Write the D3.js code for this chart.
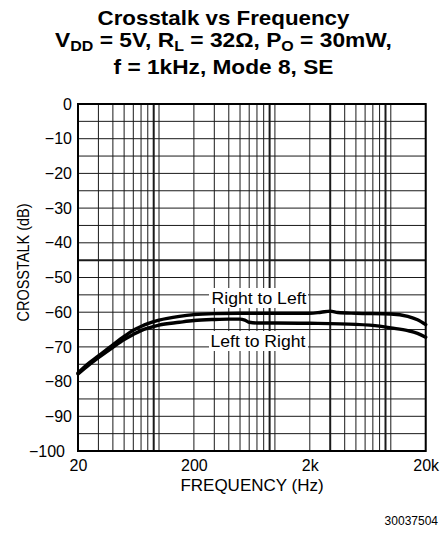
<!DOCTYPE html>
<html>
<head>
<meta charset="utf-8">
<script src="https://cdn.jsdelivr.net/npm/d3@7/dist/d3.min.js"></script>
<style>
  html, body { margin: 0; padding: 0; background: #fff; }
  svg { display: block; }
  text { font-family: "Liberation Sans", Arial, Helvetica, sans-serif; fill: #000; }
</style>
</head>
<body>
<div id="chart"></div>
<script>
// ---- Data ----
const freqRightToLeft = [20, 25, 30, 40, 50, 60, 70, 80, 100, 150, 200, 300, 500, 700, 1000, 2000, 2500, 3000, 3500, 5000, 10000, 14000, 17000, 20000];
const dbRightToLeft   = [-77.5, -74.6, -72.6, -69.4, -67.0, -65.2, -64.1, -63.3, -62.3, -61.2, -60.7, -60.4, -60.3, -60.3, -60.3, -60.3, -60.0, -59.7, -60.1, -60.3, -60.5, -61.2, -62.2, -63.6];
const freqLeftToRight = [20, 25, 30, 40, 50, 60, 70, 80, 100, 150, 200, 300, 400, 500, 550, 600, 700, 1000, 2000, 5000, 8000, 10000, 14000, 17000, 20000];
const dbLeftToRight   = [-77.8, -75.1, -73.1, -70.1, -67.9, -66.4, -65.3, -64.6, -63.7, -62.9, -62.4, -62.1, -62.0, -62.0, -62.3, -62.9, -63.1, -63.1, -63.2, -63.5, -64.0, -64.5, -65.3, -66.1, -67.2];
const seriesNames = ["Right to Left", "Left to Right"];

const xGridValues = [20, 30, 40, 50, 60, 70, 80, 90, 100, 200, 300, 400, 500, 600, 700, 800, 900, 1000, 2000, 3000, 4000, 5000, 6000, 7000, 8000, 9000, 10000, 20000];
const xGridHeavy = [90, 900, 3000, 9000];
const yGridValues = d3.range(0, -101, -5);
const yGridHeavy = [-45];
const xTickValues = [20, 200, 2000, 20000];
const xTickLabels = ["20", "200", "2k", "20k"];
const yTickValues = [0, -10, -20, -30, -40, -50, -60, -70, -80, -90, -100];

const titleLine1 = "Crosstalk vs Frequency";
const titleLine2 = [["V", false], ["DD", true], [" = 5V, R", false], ["L", true], [" = 32\u03A9, P", false], ["O", true], [" = 30mW,", false]];
const titleLine3 = "f = 1kHz, Mode 8, SE";
const xAxisTitle = "FREQUENCY (Hz)";
const yAxisTitle = "CROSSTALK (dB)";
const figureCode = "30037504";

// ---- Layout ----
const W = 445, H = 535;
const plot = { left: 78, right: 425.7, top: 104, bottom: 451 };

const svg = d3.select("#chart").append("svg").attr("width", W).attr("height", H);

const x = d3.scaleLog().domain([20, 20000]).range([plot.left, plot.right]);
const y = d3.scaleLinear().domain([-100, 0]).range([plot.bottom, plot.top]);

// Grid
const grid = svg.append("g");
grid.selectAll("line.vx").data(xGridValues).join("line")
  .attr("x1", d => x(d)).attr("x2", d => x(d))
  .attr("y1", plot.top).attr("y2", plot.bottom)
  .attr("stroke", "#1a1a1a")
  .attr("stroke-width", d => xGridHeavy.includes(d) ? 2 : 1);
grid.selectAll("line.hy").data(yGridValues).join("line")
  .attr("x1", plot.left).attr("x2", plot.right)
  .attr("y1", d => y(d)).attr("y2", d => y(d))
  .attr("stroke", "#1a1a1a")
  .attr("stroke-width", d => yGridHeavy.includes(d) ? 2 : 1);

// Frame
svg.append("rect")
  .attr("x", plot.left).attr("y", plot.top)
  .attr("width", plot.right - plot.left).attr("height", plot.bottom - plot.top)
  .attr("fill", "none").attr("stroke", "#000").attr("stroke-width", 2);

// Curves
const line = d3.line().x(d => x(d[0])).y(d => y(d[1])).curve(d3.curveMonotoneX);
const seriesData = [
  d3.zip(freqRightToLeft, dbRightToLeft),
  d3.zip(freqLeftToRight, dbLeftToRight)
];
svg.append("g").selectAll("path").data(seriesData).join("path")
  .attr("d", line)
  .attr("fill", "none")
  .attr("stroke", "#000")
  .attr("stroke-width", 3.4)
  .attr("stroke-linejoin", "round")
  .attr("stroke-linecap", "round");

// Series labels with white boxes
function stretchedText(g, txt, size, weight, targetWidth) {
  const t = g.append("text").attr("font-size", size).attr("font-weight", weight)
    .attr("text-anchor", "middle").text(txt);
  const w = t.node().getComputedTextLength();
  t.attr("transform", `scale(${targetWidth / w},1)`);
  return t;
}
const seriesLabelPos = [
  { cx: 259, baseline: 303.5, box: [209, 288, 99, 20] },
  { cx: 258, baseline: 346.7, box: [209, 331, 99, 20] }
];
seriesNames.forEach((name, i) => {
  const p = seriesLabelPos[i];
  svg.append("rect").attr("x", p.box[0]).attr("y", p.box[1])
    .attr("width", p.box[2]).attr("height", p.box[3]).attr("fill", "#fff");
  const g = svg.append("g").attr("transform", `translate(${p.cx},${p.baseline})`);
  stretchedText(g, name, 16, "normal", 95);
});

// Axes
const yAxis = d3.axisLeft(y).tickValues(yTickValues).tickSize(0).tickPadding(6);
const gy = svg.append("g").attr("transform", `translate(${plot.left},0)`).call(yAxis);
gy.select(".domain").remove();
gy.selectAll("text").attr("font-size", 16).attr("font-family", "Liberation Sans, Arial, sans-serif")
  .attr("dx", d => d === -100 ? -7 : 0);

const xAxis = d3.axisBottom(x).tickValues(xTickValues)
  .tickFormat((d, i) => xTickLabels[i]).tickSize(0).tickPadding(9);
const gx = svg.append("g").attr("transform", `translate(0,${plot.bottom})`).call(xAxis);
gx.select(".domain").remove();
gx.selectAll("text").attr("font-size", 16).attr("font-family", "Liberation Sans, Arial, sans-serif");

// Axis titles
svg.append("text").attr("x", 252).attr("y", 491)
  .attr("text-anchor", "middle").attr("font-size", 17).text(xAxisTitle);
svg.append("g").attr("transform", "translate(29,262.5) rotate(-90) scale(1,1.15)")
  .append("text").attr("text-anchor", "middle").attr("font-size", 14.5).text(yAxisTitle);

// Figure code
svg.append("text").attr("x", 438).attr("y", 525)
  .attr("text-anchor", "end").attr("font-size", 12).text(figureCode);

// Title
const cx = 223.5;
const t1 = svg.append("g").attr("transform", `translate(${cx},24.5)`);
stretchedText(t1, titleLine1, 20, "bold", 252);

const t2g = svg.append("g").attr("transform", `translate(${cx},47)`);
const t2 = t2g.append("text").attr("font-size", 20).attr("font-weight", "bold").attr("text-anchor", "middle");
let shift = 0;
titleLine2.forEach(([s, sub]) => {
  const target = sub ? 4 : 0;
  t2.append("tspan").attr("font-size", sub ? 14 : 20)
    .attr("dy", target - shift)
    .text(s);
  shift = target;
});
{
  const w = t2.node().getComputedTextLength();
  t2.attr("transform", `scale(${337 / w},1)`);
}

const t3 = svg.append("g").attr("transform", `translate(${cx},74)`);
stretchedText(t3, titleLine3, 20, "bold", 220);
</script>
</body>
</html>
